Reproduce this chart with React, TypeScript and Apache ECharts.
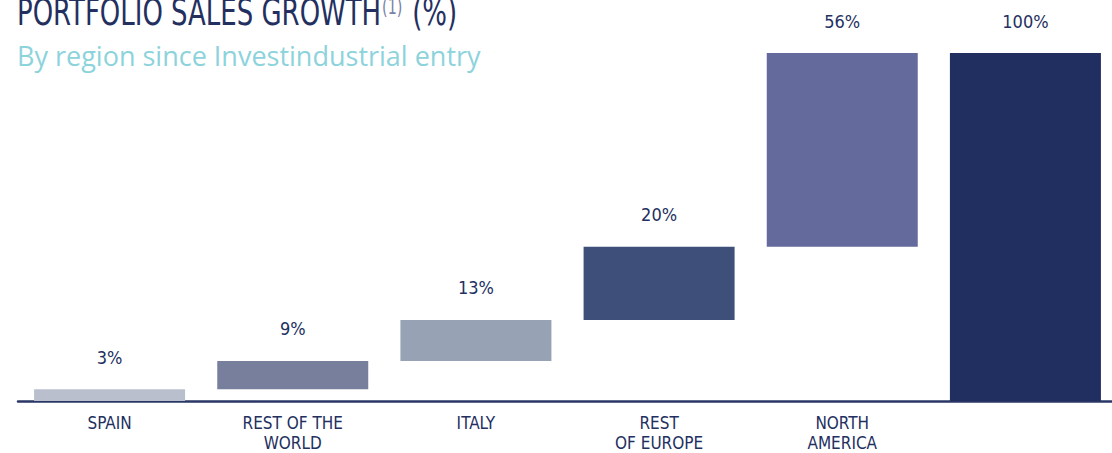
import React, { useEffect, useRef } from "react";
import * as echarts from "echarts";

const categories = ["SPAIN", "REST OF THE\nWORLD", "ITALY", "REST\nOF EUROPE", "NORTH\nAMERICA", ""];
const barValues = [3.4, 8.1, 11.8, 21.0, 55.7, 100];
const valueLabels = ["3%", "9%", "13%", "20%", "56%", "100%"];
const isTotal = [false, false, false, false, false, true];
const barColors = ["#b9bfcc", "#777f9d", "#97a2b5", "#3e4f7a", "#646a9b", "#202e60"];

const NAVY = "#23305f";
const COND = "'DejaVu Sans Condensed', sans-serif";

export default function App() {
  const ref = useRef<HTMLDivElement>(null);
  useEffect(() => {
    if (!ref.current) return;
    document.body.style.overflow = "hidden";
    const chart = echarts.init(ref.current, null, { renderer: "svg" });
    const bases: number[] = [];
    let acc = 0;
    barValues.forEach((v, i) => {
      if (isTotal[i]) {
        bases.push(0);
      } else {
        bases.push(acc);
        acc += v;
      }
    });
    chart.setOption({
      animation: false,
      backgroundColor: "#ffffff",
      grid: { left: 18, top: 53, right: 0, bottom: 52, containLabel: false },
      xAxis: {
        type: "category",
        data: categories,
        axisTick: { show: false },
        axisLine: { lineStyle: { color: "#2a3766", width: 2.5 } },
        axisLabel: {
          interval: 0,
          margin: 12,
          color: NAVY,
          fontFamily: COND,
          fontSize: 17,
          lineHeight: 20,
        },
        splitLine: { show: false },
      },
      yAxis: { type: "value", min: 0, max: 100, show: false },
      series: [
        {
          type: "bar",
          stack: "w",
          silent: true,
          barWidth: 151,
          itemStyle: { color: "transparent" },
          data: bases,
        },
        {
          type: "bar",
          stack: "w",
          barWidth: 151,
          data: barValues.map((v, i) => ({ value: v, itemStyle: { color: barColors[i] } })),
          label: {
            show: true,
            position: "top",
            distance: 23,
            color: NAVY,
            fontFamily: COND,
            fontSize: 18,
            formatter: (p: any) => valueLabels[p.dataIndex],
          },
        },
      ],
      graphic: [
        {
          type: "text",
          x: 17,
          y: 12,
          scaleX: 0.76,
          style: {
            text: "{a|PORTFOLIO SALES GROWTH}{s|(1)}{a| (%)}",
            verticalAlign: "middle",
            rich: {
              a: { fontFamily: COND, fontSize: 38, fill: "#23305f", color: "#23305f" },
              s: { fontFamily: COND, fontSize: 21, fill: "#7a81a8", color: "#7a81a8", verticalAlign: "top", padding: [3, 2, 0, 1] },
            },
          },
        },
        {
          type: "text",
          left: 17,
          top: 42,
          style: {
            text: "By region since Investindustrial entry",
            font: "27px 'Open Sans', sans-serif",
            fill: "#8dd3dc",
          },
        },
      ],
    });
    return () => chart.dispose();
  }, []);
  return (
    <div
      ref={ref}
      style={{ position: "fixed", left: 0, top: 0, width: 1117, height: 453 }}
    />
  );
}
